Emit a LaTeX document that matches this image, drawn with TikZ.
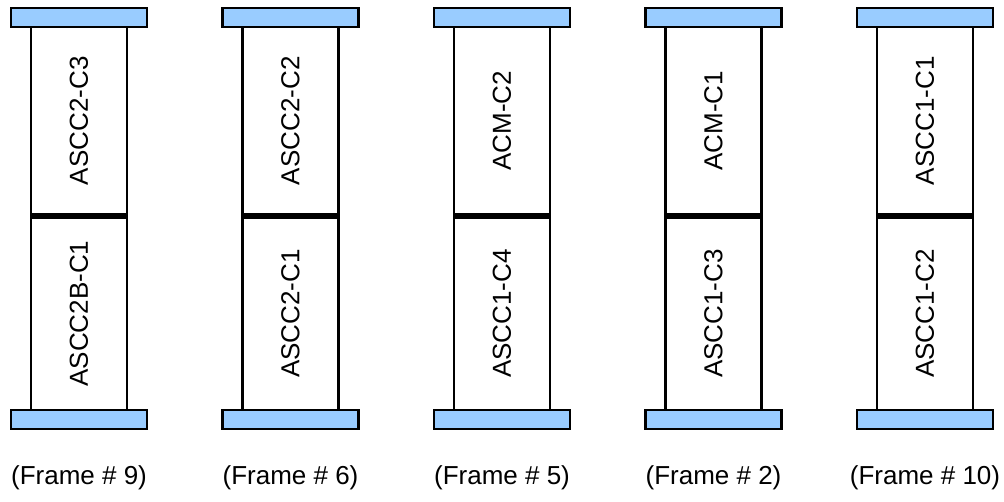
\documentclass[tikz,border=0pt]{standalone}
\usepackage{fontspec}
\setmainfont{Liberation Sans}
\definecolor{barblue}{RGB}{153,204,255}
\tikzset{
  bar/.style={draw=black, fill=barblue, line width=2.5pt, minimum width=136pt, minimum height=19pt, inner sep=0pt},
  card/.style={draw=black, fill=white, line width=2.8pt, minimum width=96pt, inner sep=0pt},
  cardtext/.style={rotate=90, font=\fontsize{26}{30}\selectfont},
  framelabel/.style={font=\fontsize{26}{30}\selectfont, inner sep=0pt}
}
\begin{document}
\begin{tikzpicture}[x=1pt,y=-1pt]
\useasboundingbox (0,0) rectangle (1004,501);
\foreach \i/\up/\lo/\fr in {0/ASCC2-C3/ASCC2B-C1/9, 1/ASCC2-C2/ASCC2-C1/6, 2/ACM-C2/ASCC1-C4/5, 3/ACM-C1/ASCC1-C3/2, 4/ASCC1-C1/ASCC1-C2/10}{
  \pgfmathsetmacro{\cx}{79+211.5*\i}
  \node[card, minimum height=187.5pt] (up\i) at (\cx,120.75) {};
  \node[card, minimum height=192.7pt] (lo\i) at (\cx,313.65) {};
  \node[cardtext] (upt\i) at (up\i.center) {\up};
  \node[cardtext] (lot\i) at (lo\i.center) {\lo};
  \node[bar] (top\i) at (\cx,17.5) {};
  \node[bar] (bot\i) at (\cx,419.5) {};
  \node[framelabel] (lab\i) at (\cx,478) {(Frame \# \fr)};
}
\end{tikzpicture}
\end{document}
